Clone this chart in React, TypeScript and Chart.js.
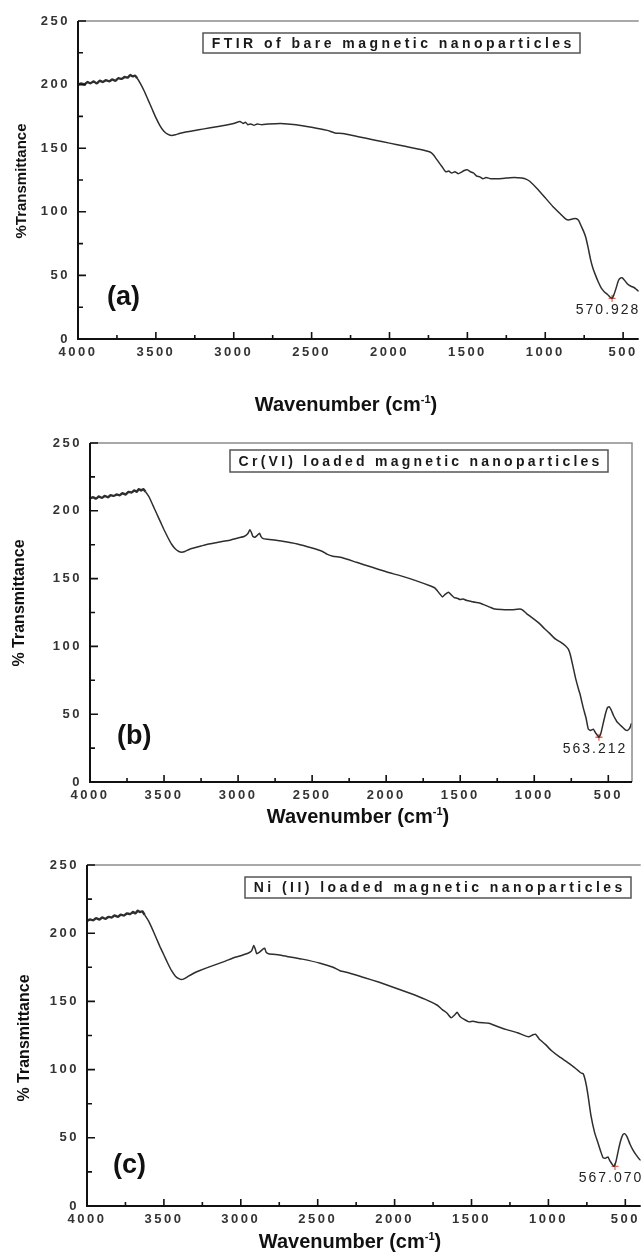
import React, { useEffect, useRef } from "react";
import { Chart, registerables } from "chart.js";

Chart.register(...registerables);

// ---- spectra: wavenumber (cm-1) and %T ----
const WN_A = [4000, 3980, 3960, 3940, 3920, 3900, 3880, 3860, 3840, 3820, 3800, 3780, 3760, 3740, 3720, 3700, 3680, 3665, 3650, 3635, 3620, 3600, 3575, 3550, 3525, 3500, 3475, 3450, 3425, 3400, 3375, 3350, 3300, 3250, 3200, 3100, 3000, 2960, 2940, 2925, 2910, 2890, 2870, 2850, 2820, 2780, 2700, 2600, 2500, 2400, 2350, 2300, 2200, 2100, 2000, 1900, 1800, 1740, 1720, 1690, 1660, 1640, 1620, 1600, 1580, 1560, 1540, 1520, 1500, 1480, 1460, 1440, 1420, 1400, 1380, 1350, 1300, 1250, 1200, 1150, 1120, 1100, 1050, 1000, 950, 900, 870, 850, 820, 800, 785, 770, 755, 740, 725, 710, 695, 680, 660, 640, 620, 600, 585, 571, 560, 545, 530, 515, 505, 490, 470, 450, 430, 415, 400];
const T_A = [200, 201, 200, 202, 201, 202.5, 201, 203, 202, 203.5, 202.5, 204, 203, 205, 204.5, 206, 205.5, 207.5, 206.5, 207, 205, 201, 195, 188, 181, 174, 168, 163.5, 161, 160, 160.5, 161.5, 163, 164, 165, 167, 169.5, 171, 169.5, 170.5, 168.5, 169, 168, 169, 168.5, 169, 169.5, 168.5, 166.5, 164, 162, 161.5, 159, 156.5, 154, 151.5, 149, 147, 145, 140, 135, 131.5, 132, 130.5, 131.5, 130, 131, 132.5, 133, 131.5, 130.5, 128, 127.5, 126, 127, 126, 126, 126.5, 127, 126.5, 125.5, 124, 118, 111, 104, 98, 94.5, 93.5, 94.5, 94.5, 93, 89, 85, 80, 72, 63, 56, 51, 45, 40, 37, 35, 33, 32, 34.5, 40, 46, 48, 48, 46, 43, 41.5, 40.5, 39, 37.5];

const WN_B = [4000, 3980, 3960, 3940, 3920, 3900, 3880, 3860, 3840, 3820, 3800, 3780, 3760, 3740, 3720, 3700, 3685, 3670, 3655, 3640, 3625, 3600, 3575, 3550, 3525, 3500, 3475, 3450, 3425, 3400, 3380, 3360, 3330, 3300, 3250, 3200, 3150, 3100, 3050, 3000, 2960, 2935, 2920, 2910, 2900, 2885, 2870, 2855, 2845, 2830, 2800, 2700, 2600, 2500, 2430, 2400, 2360, 2300, 2200, 2100, 2000, 1900, 1800, 1700, 1670, 1640, 1620, 1600, 1580, 1560, 1540, 1520, 1500, 1480, 1460, 1440, 1420, 1400, 1370, 1300, 1264, 1200, 1150, 1100, 1080, 1050, 1000, 966, 930, 900, 858, 820, 790, 770, 757, 740, 720, 700, 689, 670, 650, 635, 620, 601, 585, 570, 563, 550, 535, 520, 505, 493, 480, 465, 450, 439, 420, 400, 385, 372, 360, 350, 345, 340];
const T_B = [209, 210, 209, 210.5, 209.5, 211, 210, 211.5, 211, 212, 211.5, 213, 212, 214, 213.5, 215, 214, 216, 215, 216, 214, 210, 204, 198, 192, 186, 180.5, 175.5, 172, 170, 169.5, 170, 171.5, 172.5, 174, 175.5, 176.5, 177.5, 178.5, 180, 181, 183, 186, 184, 181, 180.5, 182, 183.5, 181, 179.5, 179, 177.5, 175.5, 172.5, 170, 168, 166.5, 165.5, 162, 158.5, 155, 152, 148.5, 144.5, 143, 139, 136.5, 138.5, 140, 138, 136, 135.5, 134.5, 135, 134, 133.5, 133, 132.5, 132, 129, 127.5, 127, 127, 127.5, 127, 124, 120, 117, 113, 110, 105.5, 103, 100.5, 98, 94, 86, 76, 68, 64, 55, 47, 39, 38, 39, 36, 34, 33, 36, 43, 50, 55, 55.5, 53, 49, 46, 44, 42, 40, 38.5, 38, 39, 41, 43, 42];

const WN_C = [4000, 3980, 3960, 3940, 3920, 3900, 3880, 3860, 3840, 3820, 3800, 3780, 3760, 3740, 3720, 3700, 3685, 3670, 3655, 3640, 3625, 3600, 3575, 3550, 3525, 3500, 3475, 3450, 3425, 3400, 3385, 3370, 3340, 3300, 3270, 3200, 3100, 3058, 3000, 2950, 2930, 2916, 2905, 2897, 2880, 2860, 2845, 2835, 2820, 2750, 2700, 2600, 2484, 2400, 2355, 2300, 2200, 2100, 2000, 1900, 1800, 1720, 1690, 1660, 1632, 1610, 1594, 1575, 1550, 1516, 1490, 1450, 1387, 1340, 1277, 1200, 1129, 1100, 1084, 1060, 1020, 981, 930, 871, 830, 787, 774, 760, 745, 723, 700, 677, 660, 645, 630, 613, 600, 588, 574, 560, 545, 530, 515, 505, 490, 470, 450, 430, 406, 400];
const T_C = [209, 210, 209.5, 211, 210, 211.5, 210.5, 212, 211.5, 213, 212, 213.5, 213, 214.5, 214, 215.5, 214.5, 216.5, 215.5, 216, 213.5, 209, 203, 196.5, 190, 184, 178, 172.5, 168.5, 166.5, 166, 166.5, 168.5, 171, 172.5, 175.5, 179.5, 181.5, 183.5, 185.5, 187, 191, 188, 185, 186, 188, 189, 186, 185, 184, 183, 181, 178, 175, 172.5, 171, 167.5, 164, 160, 156, 151.5, 147, 144, 141.5, 138, 140, 142, 139, 137, 135, 135.5, 134.5, 134, 132, 129.5, 127, 124, 125.5, 126, 122.5, 118.5, 114, 109.5, 105, 101.5, 97.5, 97, 92, 83, 66, 54, 46, 40, 35.5, 35, 36, 33, 31, 29, 33, 41, 48, 52.5, 53, 51, 45.5, 41, 37.5, 34, 33.5];

const SPECTRA_WN = [WN_A, WN_B, WN_C];
const SPECTRA_T = [T_A, T_B, T_C];

// picked absorption minima (Fe–O band)
const PEAK_WN = [570.928, 563.212, 567.07];
const PEAK_T = [32, 33, 29];
const PEAK_TEXT = ["570.928", "563.212", "567.070"];

const PANEL_TAGS = ["(a)", "(b)", "(c)"];
const PANEL_TITLES = [
  "FTIR of bare magnetic nanoparticles",
  "Cr(VI) loaded magnetic nanoparticles",
  "Ni (II) loaded magnetic nanoparticles",
];
const Y_TITLES = ["%Transmittance", "% Transmittance", "% Transmittance"];
const X_TITLE_MAIN = "Wavenumber (cm";
const X_TITLE_SUP = "-1";
const X_MAX = 4000;
const X_MINS = [400, 340, 400];
const Y_MIN = 0;
const Y_MAX = 250;
// the O–H region above this wavenumber is recorded with visible noise
const NOISY_ABOVE = 3625;

const FONT = "'Liberation Sans', Arial, Helvetica, sans-serif";

// canvas placement and decoration geometry (canvas-local pixels)
const LAYOUT = [
  {
    top: 0, h: 420, w: 644, left: 78, plotTop: 21, plotRight: 643, plotBottom: 339, rightFrame: false,
    box: { x: 203, y: 33, w: 377, h: 20 }, tag: { x: 107, y: 298 }, yTitle: { x: 22, y: 181, size: 15 },
    xTitle: { x: 346, y: 404 },
  },
  {
    top: 420, h: 420, w: 644, left: 90, plotTop: 23, plotRight: 632, plotBottom: 362, rightFrame: true,
    box: { x: 230, y: 30, w: 378, h: 22 }, tag: { x: 117, y: 317 }, yTitle: { x: 20, y: 183, size: 16 },
    xTitle: { x: 358, y: 396 },
  },
  {
    top: 840, h: 416, w: 646, left: 87, plotTop: 25, plotRight: 645, plotBottom: 366, rightFrame: false,
    box: { x: 245, y: 37, w: 386, h: 21 }, tag: { x: 113, y: 326 }, yTitle: { x: 25, y: 198, size: 16 },
    xTitle: { x: 350, y: 401 },
  },
];

type Lay = (typeof LAYOUT)[number];

function makeDecor(i: number, lay: Lay) {
  return {
    id: "decor" + i,
    beforeDraw(chart: any) {
      // wide tracking for the tick labels drawn by the scales
      chart.ctx.letterSpacing = "2.5px";
    },
    afterDraw(chart: any) {
      const ctx: CanvasRenderingContext2D = chart.ctx;
      const { left, right, top, bottom } = chart.chartArea;
      const xs = chart.scales.x;
      const ys = chart.scales.y;
      ctx.save();
      (ctx as any).letterSpacing = "0px";

      // frame: thin grey top/right, heavy black axes
      ctx.lineCap = "butt";
      ctx.strokeStyle = "#8c8c8c";
      ctx.lineWidth = 1.5;
      ctx.beginPath();
      ctx.moveTo(left, top);
      ctx.lineTo(right, top);
      if (lay.rightFrame) ctx.lineTo(right, bottom);
      ctx.stroke();

      ctx.strokeStyle = "#111";
      ctx.lineWidth = 2;
      ctx.beginPath();
      ctx.moveTo(left, top);
      ctx.lineTo(left, bottom);
      ctx.lineTo(right, bottom);
      ctx.stroke();

      // inward tick marks (major + minor)
      ctx.lineWidth = 1.6;
      ctx.beginPath();
      for (const t of ys.ticks) {
        const py = ys.getPixelForValue(t.value);
        const len = t.value % 50 === 0 ? 8 : 5;
        ctx.moveTo(left, py);
        ctx.lineTo(left + len, py);
      }
      for (const t of xs.ticks) {
        if (t.value % 250 !== 0) continue;
        const px = xs.getPixelForValue(t.value);
        const len = t.value % 500 === 0 ? 7 : 4;
        ctx.moveTo(px, bottom);
        ctx.lineTo(px, bottom - len);
      }
      ctx.stroke();

      // sample title box
      const b = lay.box;
      ctx.strokeStyle = "#555";
      ctx.lineWidth = 1.5;
      ctx.strokeRect(b.x, b.y, b.w, b.h);
      ctx.fillStyle = "#1a1a1a";
      ctx.font = `bold 14px ${FONT}`;
      const title = PANEL_TITLES[i];
      const w0 = ctx.measureText(title).width;
      const pad = 7;
      const sp = (b.w - 2 * pad - w0) / title.length;
      (ctx as any).letterSpacing = `${sp}px`;
      ctx.textAlign = "left";
      ctx.textBaseline = "middle";
      ctx.fillText(title, b.x + pad + sp / 2, b.y + b.h / 2 + 1);
      (ctx as any).letterSpacing = "0px";

      // panel tag
      ctx.fillStyle = "#111";
      ctx.font = `bold 27px ${FONT}`;
      ctx.textAlign = "left";
      ctx.textBaseline = "middle";
      ctx.fillText(PANEL_TAGS[i], lay.tag.x, lay.tag.y);

      // y title
      ctx.save();
      ctx.translate(lay.yTitle.x, lay.yTitle.y);
      ctx.rotate(-Math.PI / 2);
      ctx.font = `bold ${lay.yTitle.size}px ${FONT}`;
      ctx.textAlign = "center";
      ctx.textBaseline = "middle";
      ctx.fillText(Y_TITLES[i], 0, 0);
      ctx.restore();

      // x title with superscript
      ctx.font = `bold 20px ${FONT}`;
      const wMain = ctx.measureText(X_TITLE_MAIN).width;
      const wClose = ctx.measureText(")").width;
      ctx.font = `bold 11px ${FONT}`;
      const wSup = ctx.measureText(X_TITLE_SUP).width;
      let tx = lay.xTitle.x - (wMain + wSup + wClose) / 2;
      const base = lay.xTitle.y + 7;
      ctx.textAlign = "left";
      ctx.textBaseline = "alphabetic";
      ctx.font = `bold 20px ${FONT}`;
      ctx.fillText(X_TITLE_MAIN, tx, base);
      tx += wMain;
      ctx.font = `bold 11px ${FONT}`;
      ctx.fillText(X_TITLE_SUP, tx, base - 8);
      tx += wSup;
      ctx.font = `bold 20px ${FONT}`;
      ctx.fillText(")", tx, base);

      // peak value label under the marked minimum
      const px = xs.getPixelForValue(PEAK_WN[i]);
      const py = ys.getPixelForValue(PEAK_T[i]);
      ctx.font = `14px ${FONT}`;
      (ctx as any).letterSpacing = "2px";
      ctx.fillStyle = "#222";
      ctx.textAlign = "center";
      ctx.textBaseline = "middle";
      ctx.fillText(PEAK_TEXT[i], px - 4, py + 12);

      ctx.restore();
    },
  };
}

function Panel({ index }: { index: number }) {
  const ref = useRef<HTMLCanvasElement | null>(null);
  const lay = LAYOUT[index];

  useEffect(() => {
    if (!ref.current) return;
    const wn = SPECTRA_WN[index];
    const tr = SPECTRA_T[index];
    const tickFont = { family: FONT, size: 13, weight: "bold" as const };
    const chart = new Chart(ref.current, {
      type: "line",
      data: {
        datasets: [
          {
            data: wn.map((w, k) => ({ x: w, y: tr[k] })),
            borderColor: "#2e2e2e",
            borderWidth: 1.5,
            pointRadius: 0,
            tension: 0.15,
            fill: false,
            segment: {
              borderWidth: (c: any) => (c.p0.parsed.x > NOISY_ABOVE ? 2.4 : 1.5),
            },
          },
          {
            data: [{ x: PEAK_WN[index], y: PEAK_T[index] }],
            showLine: false,
            pointStyle: "cross",
            pointRadius: 3.5,
            borderColor: "#f0604a",
            borderWidth: 1.3,
          },
        ],
      },
      options: {
        responsive: false,
        animation: false,
        events: [],
        layout: {
          padding: { left: 0, top: lay.plotTop, right: lay.w - lay.plotRight, bottom: 0 },
        },
        plugins: { legend: { display: false }, tooltip: { enabled: false } },
        scales: {
          x: {
            type: "linear",
            reverse: true,
            min: X_MINS[index],
            max: X_MAX,
            afterFit: (s: any) => {
              s.height = lay.h - lay.plotBottom;
              s.paddingLeft = 0;
              s.paddingRight = 0;
            },
            grid: { display: false, drawTicks: false },
            border: { display: false },
            ticks: {
              stepSize: 250,
              includeBounds: false,
              autoSkip: false,
              maxRotation: 0,
              padding: 6,
              color: "#333",
              font: tickFont,
              callback: (v: any) => (Number(v) % 500 === 0 ? String(v) : ""),
            },
          },
          y: {
            type: "linear",
            min: Y_MIN,
            max: Y_MAX,
            afterFit: (s: any) => {
              s.width = lay.left;
              s.paddingTop = 0;
              s.paddingBottom = 0;
            },
            grid: { display: false, drawTicks: false },
            border: { display: false },
            ticks: {
              stepSize: 25,
              padding: 8,
              color: "#333",
              font: tickFont,
              callback: (v: any) => (Number(v) % 50 === 0 ? String(v) : ""),
            },
          },
        },
      },
      plugins: [makeDecor(index, lay)],
    } as any);
    return () => chart.destroy();
  }, [index]);

  return (
    <canvas
      ref={ref}
      width={lay.w}
      height={lay.h}
      style={{ position: "absolute", left: 0, top: lay.top, width: lay.w, height: lay.h }}
    />
  );
}

export default function App() {
  return (
    <div
      style={{
        position: "absolute",
        left: 0,
        top: 0,
        width: 644,
        height: 1256,
        overflow: "hidden",
        background: "#ffffff",
      }}
    >
      <Panel index={0} />
      <Panel index={1} />
      <Panel index={2} />
    </div>
  );
}
